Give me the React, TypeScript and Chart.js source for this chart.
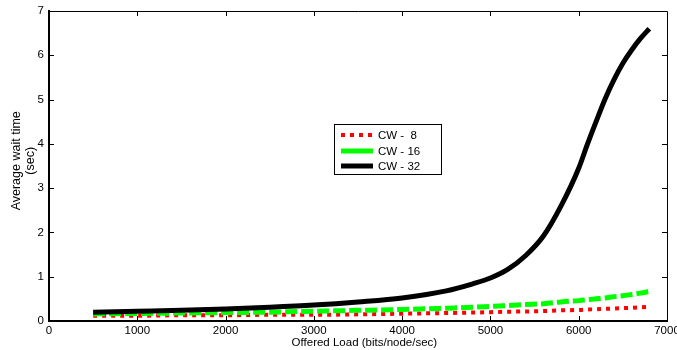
import React, { useEffect, useRef } from "react";
import { Chart, registerables } from "chart.js";

Chart.register(...registerables);

const xLoad = [500, 1000, 1500, 2000, 2500, 3000, 3500, 4000, 4500, 4800, 5000, 5200, 5400, 5600, 5800, 6000, 6100, 6200, 6300, 6400, 6500, 6600, 6700, 6800];
const cw8 = [0.12, 0.12, 0.13, 0.13, 0.14, 0.14, 0.15, 0.165, 0.18, 0.19, 0.2, 0.21, 0.215, 0.225, 0.24, 0.25, 0.26, 0.265, 0.275, 0.28, 0.29, 0.3, 0.31, 0.32];
const cw16 = [0.16, 0.17, 0.18, 0.19, 0.2, 0.22, 0.24, 0.26, 0.29, 0.31, 0.33, 0.35, 0.37, 0.39, 0.43, 0.46, 0.48, 0.5, 0.52, 0.55, 0.57, 0.6, 0.63, 0.67];
const cw32 = [0.2, 0.22, 0.24, 0.27, 0.31, 0.36, 0.43, 0.52, 0.68, 0.84, 0.97, 1.17, 1.48, 1.92, 2.6, 3.45, 4.0, 4.52, 5.02, 5.45, 5.82, 6.12, 6.38, 6.6];
const seriesLabels = ["CW -  8", "CW - 16", "CW - 32"];
const xTitle = "    Offered Load (bits/node/sec)";
const yTitle = ["   Average wait time", "   (sec)"];

const FONT = "'Liberation Sans', Arial, sans-serif";

const frameTicksPlugin = {
  id: "frameTicks",
  afterDatasetsDraw(chart: any) {
    const { ctx, chartArea } = chart;
    const xs = chart.scales.x;
    const ys = chart.scales.y;
    ctx.save();
    ctx.strokeStyle = "#000";
    ctx.lineWidth = 1;
    ctx.beginPath();
    ctx.moveTo(chartArea.left, chartArea.top + 0.5);
    ctx.lineTo(chartArea.right + 0.5, chartArea.top + 0.5);
    ctx.lineTo(chartArea.right + 0.5, chartArea.bottom);
    ctx.stroke();
    const len = 5;
    ctx.beginPath();
    xs.ticks.forEach((t: any) => {
      const px = Math.round(xs.getPixelForValue(t.value)) + 0.5;
      if (px <= chartArea.left + 2 || px >= chartArea.right - 2) return;
      ctx.moveTo(px, chartArea.bottom);
      ctx.lineTo(px, chartArea.bottom - len);
      ctx.moveTo(px, chartArea.top);
      ctx.lineTo(px, chartArea.top + len);
    });
    ys.ticks.forEach((t: any) => {
      const py = Math.round(ys.getPixelForValue(t.value)) + 0.5;
      if (py <= chartArea.top + 2 || py >= chartArea.bottom - 2) return;
      ctx.moveTo(chartArea.left, py);
      ctx.lineTo(chartArea.left + len, py);
      ctx.moveTo(chartArea.right, py);
      ctx.lineTo(chartArea.right - len, py);
    });
    ctx.stroke();
    ctx.restore();
  },
};

const boxLegendPlugin = {
  id: "boxLegend",
  afterDraw(chart: any) {
    const ctx = chart.ctx;
    const x0 = 334.5, y0 = 124.5, w = 107, h = 50;
    ctx.save();
    ctx.fillStyle = "#fff";
    ctx.fillRect(x0, y0, w, h);
    ctx.strokeStyle = "#000";
    ctx.lineWidth = 1;
    ctx.strokeRect(x0, y0, w, h);
    const rows = [135, 151, 166];
    [0, 1, 2].forEach((di, i) => {
      const ds = chart.data.datasets[di];
      const y = rows[i];
      ctx.save();
      ctx.strokeStyle = ds.borderColor;
      ctx.lineWidth = ds.borderWidth;
      ctx.setLineDash(di === 0 ? ds.borderDash : []);
      ctx.beginPath();
      ctx.moveTo(341, y);
      ctx.lineTo(373, y);
      ctx.stroke();
      ctx.restore();
      ctx.fillStyle = "#000";
      ctx.font = `11.5px ${FONT}`;
      ctx.textBaseline = "middle";
      ctx.textAlign = "left";
      ctx.fillText(ds.label, 378, y + 0.5);
    });
    ctx.restore();
  },
};

export default function App() {
  const ref = useRef<HTMLCanvasElement | null>(null);
  useEffect(() => {
    if (!ref.current) return;
    Chart.defaults.font.family = FONT;
    Chart.defaults.color = "#000";
    const mk = (vals: number[]) => xLoad.map((x, i) => ({ x, y: vals[i] }));
    const chart = new Chart(ref.current, {
      type: "line",
      data: {
        datasets: [
          {
            label: seriesLabels[0],
            data: mk(cw8),
            borderColor: "#ff0000",
            borderWidth: 4,
            borderDash: [4, 5],
            pointRadius: 0,
            cubicInterpolationMode: "monotone",
            order: 2,
          },
          {
            label: seriesLabels[1],
            data: mk(cw16),
            borderColor: "#00ff00",
            borderWidth: 5,
            borderDash: [12, 4],
            pointRadius: 0,
            cubicInterpolationMode: "monotone",
            order: 1,
          },
          {
            label: seriesLabels[2],
            data: mk(cw32),
            borderColor: "#000000",
            borderWidth: 5,
            pointRadius: 0,
            cubicInterpolationMode: "monotone",
            order: 0,
          },
        ],
      },
      options: {
        responsive: false,
        animation: false,
        layout: { padding: { top: 11, right: 10, left: 0, bottom: 0 } },
        plugins: { legend: { display: false }, tooltip: { enabled: false } },
        scales: {
          x: {
            type: "linear",
            min: 0,
            max: 7000,
            grid: { display: false, drawTicks: false },
            border: { display: true, color: "#000", width: 2 },
            ticks: {
              stepSize: 1000,
              padding: 3,
              font: { size: 11.5 },
              color: "#000",
              maxRotation: 0,
              callback: (v: any) => String(v),
            },
            title: { display: true, text: xTitle, font: { size: 11.5 }, color: "#000", padding: { top: 0, bottom: 0 } },
            afterFit: (s: any) => {
              s.height = 29;
              s.paddingLeft = 0;
              s.paddingRight = 0;
            },
          },
          y: {
            type: "linear",
            min: 0,
            max: 7,
            grid: { display: false, drawTicks: false },
            border: { display: true, color: "#000", width: 2 },
            ticks: { stepSize: 1, padding: 5, font: { size: 11.5 }, color: "#000", callback: (v: any) => String(v) },
            title: {
              display: true,
              text: yTitle,
              font: { size: 12.5, lineHeight: 1.1 },
              color: "#000",
              padding: { top: 10, bottom: 0 },
            },
            afterFit: (s: any) => {
              s.width = 49;
              s.paddingTop = 0;
              s.paddingBottom = 0;
            },
          },
        },
      },
      plugins: [frameTicksPlugin, boxLegendPlugin],
    } as any);
    return () => chart.destroy();
  }, []);
  return (
    <div style={{ position: "fixed", left: 0, top: 0, width: 677, height: 350, background: "#fff" }}>
      <canvas ref={ref} width={677} height={350} style={{ display: "block" }} />
    </div>
  );
}
